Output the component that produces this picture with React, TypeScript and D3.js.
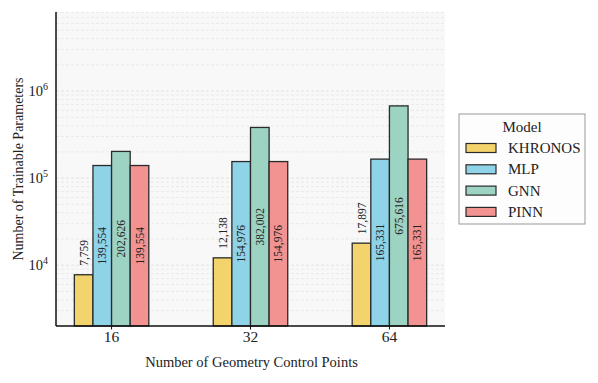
import React, { useEffect, useRef } from 'react';
import * as d3 from 'd3';

const categories = ['16', '32', '64'];
const models = ['KHRONOS', 'MLP', 'GNN', 'PINN'];
const colors = ['#f3d46c', '#8fd3e8', '#9dd3c2', '#f39391'];
const khronos = [7759, 12138, 17897];
const mlp = [139554, 154976, 165331];
const gnn = [202626, 382002, 675616];
const pinn = [139554, 154976, 165331];
const yTicks = [4, 5, 6];

const series = [khronos, mlp, gnn, pinn];
const font = '"Liberation Serif", "DejaVu Serif", serif';

const App = () => {
  const ref = useRef<SVGSVGElement>(null);

  useEffect(() => {
    const svg = d3.select(ref.current);
    svg.selectAll('*').remove();

    const left = 56, right = 445, top = 12, bottom = 326;

    const x = d3.scaleLinear().domain([-0.4, 2.4]).range([left, right]);
    const y = d3.scaleLog().domain([2000, 8.1e6]).range([bottom, top]);
    const bw = x(0.134) - x(0);

    // plot background
    svg.append('rect')
      .attr('x', left).attr('y', top)
      .attr('width', right - left).attr('height', bottom - top)
      .attr('fill', '#f8f8f8');

    // grid lines (major + minor)
    const gridVals: number[] = [];
    for (let e = 3; e <= 6; e++) {
      for (let m = 1; m <= 9; m++) {
        const v = m * Math.pow(10, e);
        if (v >= 2000 && v <= 8.1e6) gridVals.push(v);
      }
    }
    svg.append('g')
      .selectAll('line')
      .data(gridVals)
      .join('line')
      .attr('x1', left).attr('x2', right)
      .attr('y1', d => y(d)).attr('y2', d => y(d))
      .attr('stroke', d => (Math.log10(d) % 1 === 0 ? '#dcdcdc' : '#e6e6e6'))
      .attr('stroke-width', 0.8)
      .attr('stroke-dasharray', '3,2');

    // bars
    series.forEach((vals, i) => {
      const g = svg.append('g');
      g.selectAll('rect')
        .data(vals)
        .join('rect')
        .attr('x', (d, j) => x(j) + (i - 2) * bw)
        .attr('y', d => y(d))
        .attr('width', bw)
        .attr('height', d => bottom - y(d))
        .attr('fill', colors[i])
        .attr('stroke', '#2a2a2a')
        .attr('stroke-width', 1.3);

      // value labels: inside tall bars (log-middle), above short ones
      g.selectAll('text')
        .data(vals)
        .join('text')
        .attr('transform', (d, j) => {
          const cx = x(j) + (i - 1.5) * bw;
          const cy = d > 50000 ? (y(d) + bottom) / 2 : y(d) - 9;
          return `translate(${cx},${cy}) rotate(-90)`;
        })
        .attr('text-anchor', d => (d > 50000 ? 'middle' : 'start'))
        .attr('dy', '0.35em')
        .attr('font-family', font)
        .attr('font-size', 11.5)
        .attr('fill', '#222')
        .text(d => d3.format(',')(d));
    });

    // spines
    svg.append('line')
      .attr('x1', left).attr('x2', left).attr('y1', top).attr('y2', bottom)
      .attr('stroke', '#111').attr('stroke-width', 1.5);
    svg.append('line')
      .attr('x1', left).attr('x2', right).attr('y1', bottom).attr('y2', bottom)
      .attr('stroke', '#111').attr('stroke-width', 1.5);

    // x ticks
    svg.append('g')
      .selectAll('line')
      .data(categories)
      .join('line')
      .attr('x1', (d, j) => x(j)).attr('x2', (d, j) => x(j))
      .attr('y1', bottom).attr('y2', bottom + 3.5)
      .attr('stroke', '#111').attr('stroke-width', 1);
    svg.append('g')
      .selectAll('text')
      .data(categories)
      .join('text')
      .attr('x', (d, j) => x(j))
      .attr('y', bottom + 16)
      .attr('text-anchor', 'middle')
      .attr('font-family', font)
      .attr('font-size', 15.5)
      .attr('fill', '#222')
      .text(d => d);

    // y tick labels
    const yl = svg.append('g')
      .selectAll('text')
      .data(yTicks)
      .join('text')
      .attr('x', left - 8)
      .attr('y', d => y(Math.pow(10, d)) + 5)
      .attr('text-anchor', 'end')
      .attr('font-family', font)
      .attr('font-size', 14.5)
      .attr('fill', '#222');
    yl.append('tspan').text('10');
    yl.append('tspan')
      .attr('dy', -6)
      .attr('font-size', 10)
      .text(d => String(d));

    // axis titles
    svg.append('text')
      .attr('x', (left + right) / 2 + 1)
      .attr('y', 367)
      .attr('text-anchor', 'middle')
      .attr('font-family', font)
      .attr('font-size', 14.5)
      .attr('fill', '#222')
      .text('Number of Geometry Control Points');
    svg.append('text')
      .attr('transform', `translate(18,${(top + bottom) / 2}) rotate(-90)`)
      .attr('text-anchor', 'middle')
      .attr('dy', '0.35em')
      .attr('font-family', font)
      .attr('font-size', 14)
      .attr('fill', '#222')
      .text('Number of Trainable Parameters');

    // legend
    const lg = svg.append('g').attr('transform', 'translate(459,114)');
    lg.append('rect')
      .attr('width', 126).attr('height', 110)
      .attr('fill', '#fdfdfd')
      .attr('stroke', '#999').attr('stroke-width', 1);
    lg.append('text')
      .attr('x', 63).attr('y', 18)
      .attr('text-anchor', 'middle')
      .attr('font-family', font)
      .attr('font-size', 15)
      .attr('fill', '#222')
      .text('Model');
    models.forEach((m, i) => {
      const cy = 34 + i * 21.3;
      lg.append('rect')
        .attr('x', 7).attr('y', cy - 4.5)
        .attr('width', 30).attr('height', 9)
        .attr('fill', colors[i])
        .attr('stroke', '#2a2a2a').attr('stroke-width', 1.2);
      lg.append('text')
        .attr('x', 49).attr('y', cy + 5)
        .attr('font-family', font)
        .attr('font-size', 15)
        .attr('fill', '#222')
        .text(m);
    });
  }, []);

  return (
    <svg ref={ref} width={598} height={383}
      style={{ position: 'absolute', left: 0, top: 0, background: '#fff' }} />
  );
};

export default App;
